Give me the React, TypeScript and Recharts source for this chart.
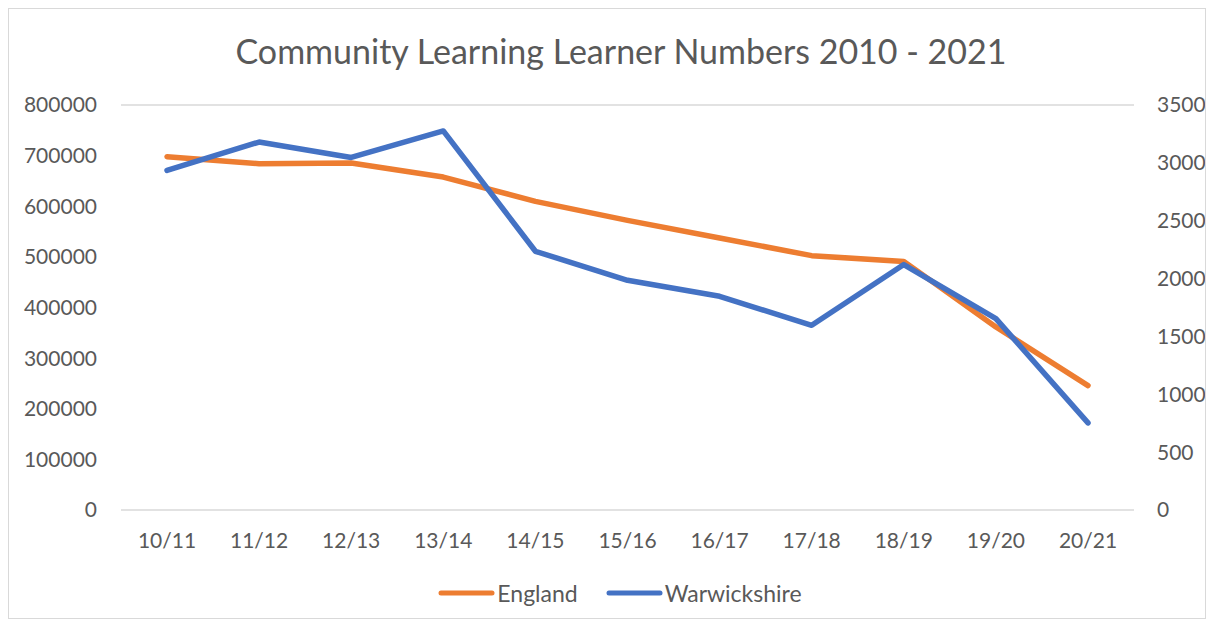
import React from "react";
import { LineChart, Line, XAxis, YAxis, CartesianGrid, Legend } from "recharts";

const YEARS = ["10/11", "11/12", "12/13", "13/14", "14/15", "15/16", "16/17", "17/18", "18/19", "19/20", "20/21"];
const ENGLAND = [698000, 684000, 685400, 657700, 609600, 572000, 537300, 502400, 491100, 361600, 245800];
const WARWICKSHIRE = [2935, 3180, 3047, 3276, 2236, 1985, 1847, 1596, 2121, 1654, 753];
const LEFT_TICKS = [0, 100000, 200000, 300000, 400000, 500000, 600000, 700000, 800000];
const RIGHT_TICKS = [0, 500, 1000, 1500, 2000, 2500, 3000, 3500];

const SERIES = [
  { key: "England", color: "#ED7D31" },
  { key: "Warwickshire", color: "#4472C4" },
];

const data = YEARS.map((year, i) => ({
  year,
  England: ENGLAND[i],
  Warwickshire: WARWICKSHIRE[i],
}));

const FONT = "Lato, 'Open Sans', sans-serif";
const tickStyle = { fill: "#595959", fontSize: 21, fontFamily: FONT };

function LegendContent() {
  return (
    <div style={{ display: "flex", justifyContent: "center", alignItems: "center", height: 30, paddingLeft: 26, fontFamily: FONT, fontSize: 23, color: "#595959" }}>
      {SERIES.map((s, i) => (
        <div key={s.key} style={{ display: "flex", alignItems: "center", marginLeft: i ? 28 : 0 }}>
          <svg width={57} height={8}>
            <line x1={3} y1={4} x2={54} y2={4} stroke={s.color} strokeWidth={5} strokeLinecap="round" />
          </svg>
          <span style={{ marginLeft: 2 }}>{s.key}</span>
        </div>
      ))}
    </div>
  );
}

export default function App() {
  return (
    <div style={{ position: "relative", width: 1196, height: 609, border: "1px solid #d9d9d9", background: "#fff" }}>
      <div style={{ position: "absolute", top: 22, left: 14, width: "100%", textAlign: "center", fontFamily: FONT, fontSize: 34, lineHeight: "40px", color: "#595959" }}>
        Community Learning Learner Numbers 2010 - 2021
      </div>
      <LineChart width={1196} height={609} data={data} margin={{ top: 96, right: 0, left: 0, bottom: 10 }}>
        <CartesianGrid vertical={false} stroke="#d9d9d9" strokeWidth={1.5} />
        <XAxis dataKey="year" axisLine={false} tickLine={false} tickSize={0} tickMargin={23} height={68} tick={tickStyle} interval={0} padding={{ left: 46, right: 46 }} />
        <YAxis yAxisId="left" orientation="left" width={112} domain={[0, 800000]} ticks={LEFT_TICKS} axisLine={false} tickLine={false} tickSize={0} tickMargin={24} tick={tickStyle} />
        <YAxis yAxisId="right" orientation="right" width={71} domain={[0, 3500]} ticks={RIGHT_TICKS} axisLine={false} tickLine={false} tickSize={0} tickMargin={23} tick={{ ...tickStyle, textAnchor: "start" }} />
        <Legend verticalAlign="bottom" content={<LegendContent />} />
        <Line yAxisId="left" dataKey="England" stroke="#ED7D31" strokeWidth={5.5} dot={false} strokeLinejoin="round" strokeLinecap="round" isAnimationActive={false} />
        <Line yAxisId="right" dataKey="Warwickshire" stroke="#4472C4" strokeWidth={5.5} dot={false} strokeLinejoin="round" strokeLinecap="round" isAnimationActive={false} />
      </LineChart>
    </div>
  );
}
